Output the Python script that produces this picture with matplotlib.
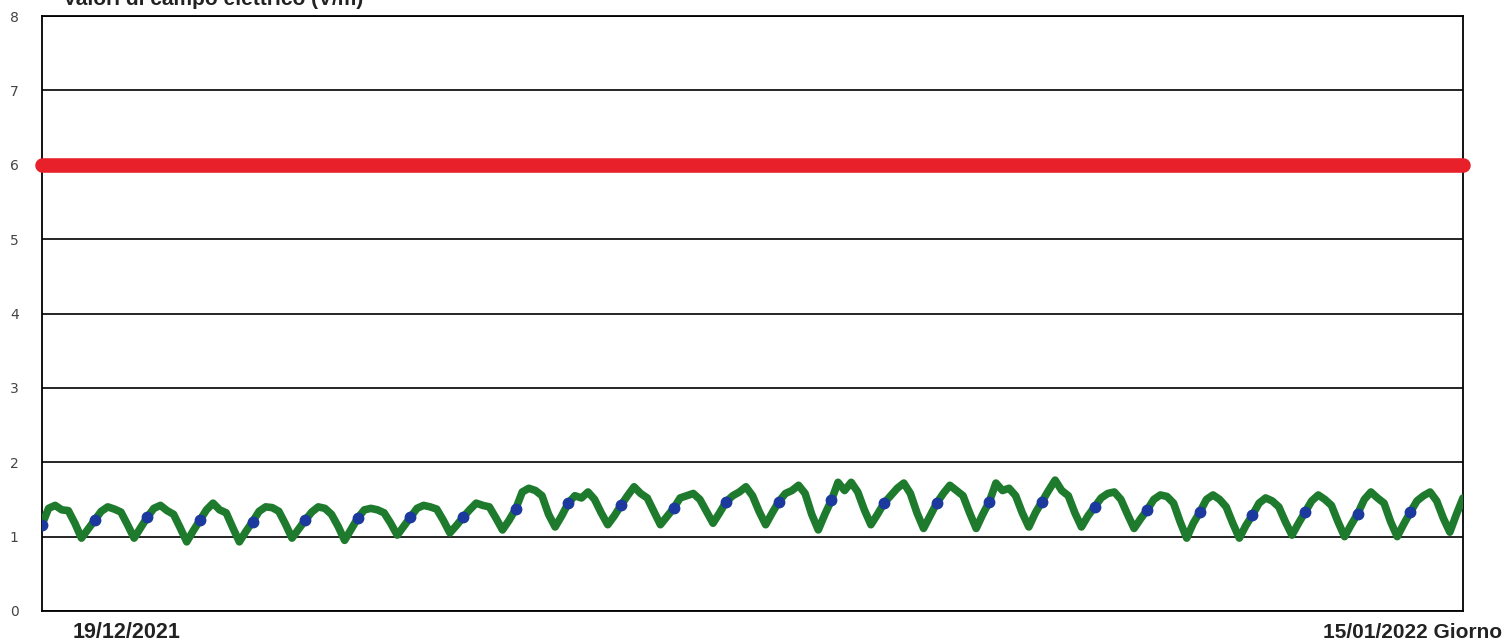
import matplotlib.pyplot as plt
import pandas as pd

# Valori del campo elettrico (V/m), un campione ogni 3 ore
giorni = [
    [1.16, 1.38, 1.42, 1.36, 1.35, 1.18, 0.98, 1.10],
    [1.22, 1.34, 1.40, 1.37, 1.33, 1.16, 0.98, 1.12],
    [1.26, 1.38, 1.42, 1.35, 1.30, 1.12, 0.93, 1.08],
    [1.22, 1.36, 1.45, 1.36, 1.32, 1.12, 0.93, 1.07],
    [1.20, 1.34, 1.40, 1.39, 1.34, 1.17, 0.98, 1.10],
    [1.22, 1.33, 1.40, 1.38, 1.30, 1.14, 0.95, 1.10],
    [1.25, 1.36, 1.38, 1.36, 1.32, 1.18, 1.02, 1.14],
    [1.26, 1.38, 1.42, 1.40, 1.37, 1.22, 1.05, 1.15],
    [1.26, 1.36, 1.45, 1.42, 1.40, 1.25, 1.09, 1.22],
    [1.37, 1.60, 1.65, 1.62, 1.55, 1.30, 1.13, 1.28],
    [1.45, 1.55, 1.52, 1.60, 1.50, 1.32, 1.16, 1.28],
    [1.42, 1.55, 1.67, 1.58, 1.52, 1.34, 1.16, 1.27],
    [1.38, 1.52, 1.55, 1.58, 1.50, 1.34, 1.18, 1.32],
    [1.47, 1.55, 1.60, 1.67, 1.55, 1.34, 1.16, 1.32],
    [1.47, 1.58, 1.62, 1.69, 1.58, 1.30, 1.09, 1.30],
    [1.49, 1.73, 1.62, 1.73, 1.60, 1.36, 1.16, 1.30],
    [1.45, 1.55, 1.65, 1.72, 1.58, 1.32, 1.11, 1.28],
    [1.45, 1.58, 1.69, 1.62, 1.55, 1.32, 1.11, 1.30],
    [1.47, 1.72, 1.62, 1.65, 1.55, 1.32, 1.13, 1.32],
    [1.47, 1.62, 1.76, 1.62, 1.55, 1.32, 1.13, 1.28],
    [1.40, 1.52, 1.58, 1.60, 1.50, 1.30, 1.11, 1.24],
    [1.36, 1.50, 1.56, 1.54, 1.45, 1.20, 0.98, 1.18],
    [1.33, 1.50, 1.56, 1.50, 1.40, 1.18, 0.98, 1.15],
    [1.29, 1.45, 1.52, 1.48, 1.40, 1.20, 1.02, 1.18],
    [1.33, 1.48, 1.56, 1.50, 1.42, 1.20, 1.00, 1.16],
    [1.31, 1.50, 1.60, 1.52, 1.45, 1.20, 1.00, 1.17],
    [1.33, 1.48, 1.55, 1.60, 1.48, 1.25, 1.06, 1.30],
]
valore_finale = 1.52
limite = 6  # valore di attenzione (V/m)

inizio = pd.Timestamp('2021-12-19')
fine = pd.Timestamp('2022-01-15')
etichetta_inizio = '19/12/2021'
etichetta_fine = '15/01/2022 Giorno'
titolo = 'Valori di campo elettrico (V/m)'

valori = [v for g in giorni for v in g] + [valore_finale]
tempi = pd.date_range(inizio, periods=len(valori), freq='3h')

fig = plt.figure(figsize=(15.08, 6.42), dpi=100)
ax = fig.add_axes([42 / 1508, 31 / 642, 1421 / 1508, 595 / 642])

ax.plot([inizio, fine], [limite, limite], color='#e8202a', linewidth=10.5,
        solid_capstyle='round', clip_on=False, zorder=3)
ax.plot(tempi, valori, color='#1e7a2c', linewidth=5.5, solid_joinstyle='round',
        solid_capstyle='round', zorder=4)
ax.plot(tempi[::8][:-1], valori[::8][:-1], linestyle='none', marker='o',
        markersize=7.5, color='#1c3a9e', zorder=5)

ax.set_xlim(inizio, fine)
ax.set_ylim(0, 8)
ax.set_yticks(range(0, 9))
ax.set_xticks([])
ax.yaxis.grid(True, color='black', linewidth=1.2)
ax.set_axisbelow(True)
ax.tick_params(axis='y', length=0, pad=20, labelsize=10, labelcolor='#444444')
for lab in ax.get_yticklabels():
    lab.set_horizontalalignment('center')
for s in ax.spines.values():
    s.set_color('black')
    s.set_linewidth(1.3)

fig.text(127 / 1508, 10 / 642, etichetta_inizio, ha='center', va='center',
         fontsize=15.5, fontweight='bold', family='Liberation Sans', color='#222222')
fig.text(1502 / 1508, 10 / 642, etichetta_fine, ha='right', va='center',
         fontsize=15, fontweight='bold', family='Liberation Sans', color='#222222')
fig.text(63 / 1508, 1 - 5 / 642, titolo, ha='left', va='baseline',
         fontsize=15, fontweight='bold', family='Liberation Sans', color='#222222')

fig.savefig('out.png', dpi=100)
